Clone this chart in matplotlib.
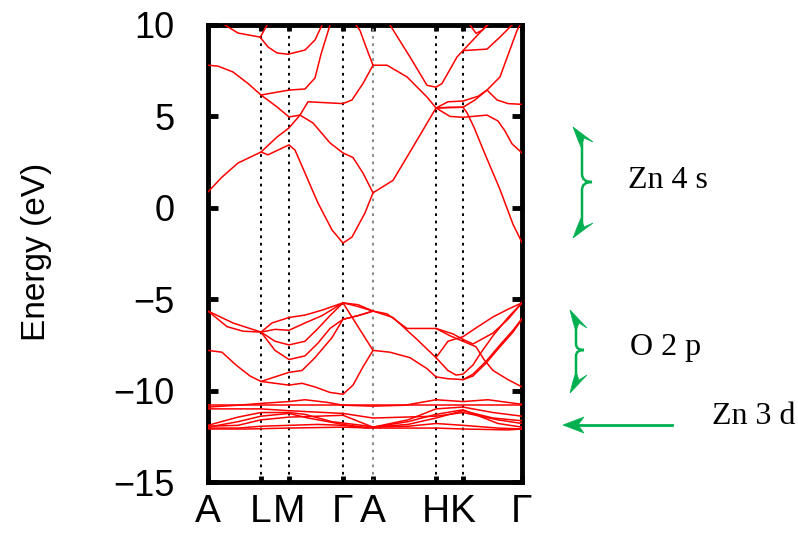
import matplotlib
matplotlib.use("Agg")
import matplotlib.pyplot as plt
from matplotlib.path import Path
from matplotlib.patches import PathPatch, Polygon
from matplotlib.transforms import Affine2D

# ---------------- data ----------------
k_ticks = [0, 53, 81, 135, 165, 228, 255, 314]
k_labels = ["A", "L", "M", "Γ", "A", "H", "K", "Γ"]
y_ticks = [-15, -10, -5, 0, 5, 10]

# conduction bands (k, E)
cb1_k = [0, 14, 30, 53, 60, 81, 87, 97, 110, 124, 135, 144, 157, 165, 185, 205, 228, 242, 255, 259, 266, 275, 292, 305, 314]
cb1_e = [0.87, 1.68, 2.45, 3.05, 2.9, 3.44, 3.16, 1.9, 0.26, -1.21, -1.93, -1.6, -0.28, 0.82, 1.5, 3.33, 5.46, 5.5, 5.5, 5.2, 4.4, 3.2, 1.0, -0.9, -1.9]
cb2_k = [0, 10, 25, 40, 53, 69, 81, 92, 105, 122, 135, 145, 155, 165]
cb2_e = [7.8, 7.75, 7.43, 6.8, 6.17, 5.52, 4.97, 5.07, 4.64, 3.55, 3.0, 2.75, 1.9, 0.82]
cb3_k = [53, 81, 97, 107, 113, 122]
cb3_e = [6.17, 6.44, 6.5, 7.1, 8.4, 10.0]
cb4_k = [53, 69, 81, 92, 100, 135, 144, 155, 165]
cb4_e = [3.05, 3.87, 4.37, 5.07, 5.8, 5.7, 5.9, 6.8, 7.8]
cb5_k = [148, 152, 158, 165]
cb5_e = [10.0, 9.7, 8.8, 7.8]
cb6_k = [165, 179, 199, 219, 228]
cb6_e = [7.8, 7.8, 7.16, 6.06, 5.46]
cb7_k = [182, 202, 219, 228, 234, 249, 255, 265, 279]
cb7_e = [10.0, 8.25, 6.7, 6.6, 6.8, 8.25, 8.6, 9.18, 10.0]
cb8_k = [255, 279, 292, 304]
cb8_e = [8.6, 8.68, 9.34, 10.0]
cb9_k = [262, 268, 274, 280]
cb9_e = [10.0, 9.55, 9.7, 10.0]
cb10_k = [228, 240, 255, 270, 279, 289, 300, 314]
cb10_e = [5.46, 5.8, 5.84, 6.1, 6.44, 5.9, 5.7, 5.66]
cb11_k = [228, 255, 267, 279, 292, 309, 312]
cb11_e = [5.46, 5.5, 5.9, 6.44, 7.16, 9.7, 10.0]
cb12_k = [228, 242, 255, 279, 290, 297, 304, 314]
cb12_e = [5.46, 5.0, 4.95, 5.07, 4.75, 4.2, 3.5, 3.0]
cb13_k = [17, 30, 52, 60, 69, 80, 97, 107, 114]
cb13_e = [10.0, 9.56, 9.34, 8.8, 8.47, 8.4, 8.63, 9.18, 10.0]
cb14_k = [53, 59]
cb14_e = [9.4, 10.0]

# valence bands (O 2p)
vb1_k = [0, 25, 53, 64, 81, 97, 114, 135, 150, 165]
vb1_e = [-5.65, -6.3, -6.8, -6.3, -6.0, -5.87, -5.6, -5.2, -5.4, -5.65]
vb2_k = [0, 19, 35, 53, 67, 81, 97, 114, 135, 150, 165]
vb2_e = [-5.65, -6.5, -6.75, -6.8, -6.65, -6.7, -6.3, -5.9, -5.2, -5.3, -5.65]
vb3_k = [53, 67, 81, 97, 110, 122, 135, 150, 165]
vb3_e = [-6.8, -7.3, -7.5, -7.3, -6.6, -5.9, -5.2, -6.5, -7.8]
vb4_k = [53, 67, 81, 97, 110, 122, 135, 150, 165]
vb4_e = [-6.8, -7.8, -8.3, -8.1, -7.4, -6.6, -6.1, -5.9, -5.65]
vb5_k = [0, 14, 28, 42, 53, 67, 81, 94, 107, 124, 135, 150, 165]
vb5_e = [-7.8, -7.9, -8.6, -9.2, -9.5, -9.25, -9.0, -8.9, -8.2, -7.1, -6.1, -5.9, -5.65]
vb6_k = [53, 67, 81, 94, 107, 122, 135, 145, 155, 165]
vb6_e = [-9.5, -9.6, -9.7, -9.6, -9.8, -10.1, -10.2, -9.7, -8.7, -7.8]
vb7_k = [165, 179, 199, 228, 242, 255, 268, 276, 285, 300, 314]
vb7_e = [-5.65, -5.8, -6.6, -6.6, -7.0, -7.3, -7.6, -8.3, -8.9, -9.4, -9.8]
vb8_k = [165, 185, 209, 228, 240, 255, 270, 285, 300, 314]
vb8_e = [-5.65, -6.0, -7.2, -8.2, -7.3, -7.05, -6.5, -5.97, -5.55, -5.2]
vb9_k = [165, 182, 202, 219, 228, 240, 255, 265, 278, 292, 305, 314]
vb9_e = [-7.8, -7.9, -8.2, -8.8, -9.25, -9.35, -9.4, -9.2, -8.5, -7.6, -6.8, -6.1]
vb10_k = [255, 265, 278, 292, 305, 314]
vb10_e = [-9.4, -9.1, -8.4, -7.5, -6.7, -6.05]
vb11_k = [228, 240, 248, 255, 265, 272, 285, 300, 314]
vb11_e = [-8.2, -8.9, -9.15, -9.1, -8.6, -8.0, -7.0, -6.0, -5.2]
vb12_k = [228, 245, 255, 265, 285, 300, 314]
vb12_e = [-6.6, -6.9, -7.2, -7.45, -6.85, -6.1, -5.2]

# Zn 3d bands
db1_k = [0, 314]
db1_e = [-10.8, -10.8]
db2_k = [0, 30, 53, 81, 97, 120, 135, 165, 197, 228, 255, 280, 314]
db2_e = [-10.9, -10.8, -10.7, -10.6, -10.5, -10.65, -10.8, -10.85, -10.8, -10.5, -10.6, -10.5, -10.75]
db3_k = [0, 30, 53, 81, 97, 124, 154, 165, 200, 228, 255, 285, 314]
db3_e = [-11.9, -11.45, -11.2, -11.2, -11.3, -11.7, -11.9, -12.0, -11.6, -11.0, -10.9, -11.2, -11.4]
db4_k = [0, 30, 53, 81, 100, 135, 155, 165, 200, 228, 255, 285, 314]
db4_e = [-12.0, -11.7, -11.4, -11.25, -11.5, -11.85, -12.0, -12.0, -11.85, -11.5, -11.1, -11.5, -11.65]
db5_k = [0, 30, 53, 81, 110, 135, 165, 200, 228, 255, 290, 314]
db5_e = [-11.95, -11.9, -11.6, -11.45, -11.4, -11.35, -12.0, -11.7, -11.3, -11.05, -11.8, -12.0]
db6_k = [0, 30, 53, 81, 110, 135, 160, 165, 200, 228, 255, 290, 314]
db6_e = [-12.05, -12.05, -11.95, -11.9, -11.85, -11.9, -12.05, -12.0, -11.95, -11.8, -11.9, -12.05, -12.1]
db7_k = [0, 53, 81, 135, 165, 228, 255, 290, 314]
db7_e = [-11.0, -11.0, -11.1, -11.25, -11.5, -11.4, -11.2, -11.6, -11.8]
db8_k = [0, 40, 81, 135, 165, 228, 255, 300, 314]
db8_e = [-12.1, -12.1, -12.05, -12.0, -12.05, -12.05, -12.1, -12.15, -12.1]

bands = [
    (cb1_k, cb1_e), (cb2_k, cb2_e), (cb3_k, cb3_e), (cb4_k, cb4_e), (cb5_k, cb5_e),
    (cb6_k, cb6_e), (cb7_k, cb7_e), (cb8_k, cb8_e), (cb9_k, cb9_e), (cb10_k, cb10_e),
    (cb11_k, cb11_e), (cb12_k, cb12_e), (cb13_k, cb13_e), (cb14_k, cb14_e),
    (vb1_k, vb1_e), (vb2_k, vb2_e), (vb3_k, vb3_e), (vb4_k, vb4_e), (vb5_k, vb5_e),
    (vb6_k, vb6_e), (vb7_k, vb7_e), (vb8_k, vb8_e), (vb9_k, vb9_e), (vb10_k, vb10_e),
    (vb11_k, vb11_e), (vb12_k, vb12_e),
    (db1_k, db1_e), (db2_k, db2_e), (db3_k, db3_e), (db4_k, db4_e), (db5_k, db5_e),
    (db6_k, db6_e), (db7_k, db7_e), (db8_k, db8_e),
]

annot_labels = ["Zn 4 s", "O 2 p", "Zn 3 d"]

# ---------------- figure ----------------
W, H = 798, 533
fig = plt.figure(figsize=(W / 100, H / 100), dpi=100)
pix = Affine2D().scale(1, -1).translate(0, H)  # pixel coords, origin top-left

ax = fig.add_axes([208 / W, 1 - 482 / H, (522 - 208) / W, (482 - 25) / H])
ax.set_xlim(k_ticks[0], k_ticks[-1])
ax.set_ylim(-15, 10)

for kk, ee in bands:
    ax.plot(kk, ee, color="#ff0000", lw=1.1, solid_joinstyle="round", zorder=3)

for i, kv in enumerate(k_ticks[1:-1]):
    col = "#888888" if k_labels[i + 1] == "A" else "black"
    ax.axvline(kv, color=col, lw=1.4, dashes=(1.4, 2.4), zorder=2)

for s in ax.spines.values():
    s.set_linewidth(3.5)

ax.set_yticks(y_ticks)
ax.set_yticklabels([("−" + str(-v)) if v < 0 else str(v) for v in y_ticks],
                   fontfamily="Liberation Sans", fontsize=26)
ax.set_xticks(k_ticks)
ax.set_xticklabels(k_labels, fontfamily="Liberation Sans", fontsize=28)
ax.tick_params(axis="y", direction="in", length=7, width=3.5, left=True, right=True, pad=24)
ax.tick_params(axis="x", direction="in", length=4, width=3.5, top=True, bottom=True, pad=9)

fig.text(37 / W, 1 - 252 / H, "Energy (eV)", rotation=90, ha="center", va="center",
         fontfamily="Liberation Sans", fontsize=24)

# ---------------- green annotations ----------------
green = "#00B050"

def brace(xs, xc, y0, ym, y1, r):
    verts = [(xs, y0), (xs, ym - r), (xs, ym), (xc, ym), (xs, ym), (xs, ym + r), (xs, y1)]
    codes = [Path.MOVETO, Path.LINETO, Path.CURVE3, Path.CURVE3, Path.CURVE3, Path.CURVE3, Path.LINETO]
    fig.add_artist(PathPatch(Path(verts, codes), transform=pix, fill=False,
                             edgecolor=green, lw=1.8, capstyle="butt"))

brace(582, 592, 140, 182, 226, 8)
fig.add_artist(Polygon([(573, 127), (593, 142), (584, 138), (581, 147), (578, 140)],
                       closed=True, transform=pix, facecolor=green, edgecolor=green, lw=0.5))
fig.add_artist(Polygon([(573, 238), (593, 223), (584, 227), (581, 218), (578, 225)],
                       closed=True, transform=pix, facecolor=green, edgecolor=green, lw=0.5))

brace(576, 584, 322, 350, 380, 6)
fig.add_artist(Polygon([(570, 310), (587, 328), (579, 323), (576, 331), (573, 322)],
                       closed=True, transform=pix, facecolor=green, edgecolor=green, lw=0.5))
fig.add_artist(Polygon([(570, 393), (587, 375), (579, 380), (576, 372), (573, 381)],
                       closed=True, transform=pix, facecolor=green, edgecolor=green, lw=0.5))

fig.add_artist(plt.Line2D([578, 672], [425, 425], color=green, lw=2.0, transform=pix))
fig.add_artist(Polygon([(563, 425), (584, 417), (578, 425), (584, 433)],
                       closed=True, transform=pix, facecolor=green, edgecolor=green, lw=0.5))

fig.text(628 / W, 1 - 181 / H, annot_labels[0], ha="left", va="center",
         fontfamily="Liberation Serif", fontsize=23)
fig.text(630 / W, 1 - 347 / H, annot_labels[1], ha="left", va="center",
         fontfamily="Liberation Serif", fontsize=23)
fig.text(712 / W, 1 - 417 / H, annot_labels[2], ha="left", va="center",
         fontfamily="Liberation Serif", fontsize=23)

fig.savefig("out.png", dpi=100)
